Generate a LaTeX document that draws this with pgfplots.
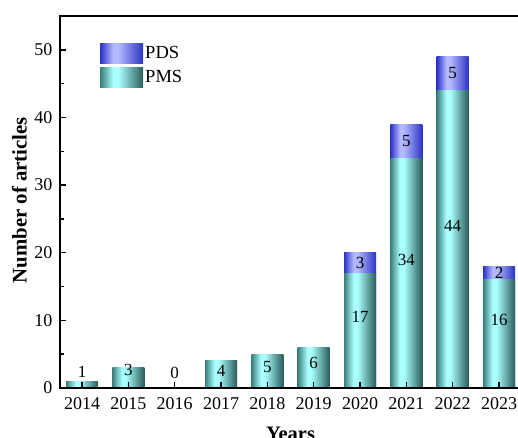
\documentclass[border=0pt]{standalone}
\usepackage{pgfplots}
\usepackage{pgfplotstable}
\pgfplotsset{compat=1.18}
\usepackage{fontspec}
\setmainfont{Liberation Serif}
\definecolor{pmsL}{HTML}{3A7E7A}
\definecolor{pmsR}{HTML}{285C59}
\definecolor{pmsMid}{HTML}{AAFFFF}
\definecolor{pdsL}{HTML}{2B31C6}
\definecolor{pdsR}{HTML}{2C33C2}
\definecolor{pdsMid}{HTML}{B2B9FF}
\pgfdeclarehorizontalshading{pmsshade}{100bp}{color(0bp)=(pmsL); color(25bp)=(pmsL); color(40bp)=(pmsMid); color(46bp)=(pmsMid); color(75bp)=(pmsR); color(100bp)=(pmsR)}
\pgfdeclarehorizontalshading{pdsshade}{100bp}{color(0bp)=(pdsL); color(25bp)=(pdsL); color(40bp)=(pdsMid); color(46bp)=(pdsMid); color(75bp)=(pdsR); color(100bp)=(pdsR)}

\pgfplotstableread{
x pms pds
0 1 0
1 3 0
2 0 0
3 4 0
4 5 0
5 6 0
6 17 3
7 34 5
8 44 5
9 16 2
}\datatable

\pgfplotstableread{
x y label
0 2.4 1
1 2.6 3
2 2.2 0
3 2.6 4
4 3.1 5
5 3.7 6
6 10.5 17
6 18.5 3
7 19 34
7 36.5 5
8 24 44
8 46.5 5
9 10 16
9 17 2
}\labeltable

\pgfplotsset{
  common/.style={
    at={(60pt,49pt)}, anchor=south west,
    width=461pt, height=372pt, scale only axis,
    xmin=-0.475, xmax=9.475, ymin=0, ymax=55,
  },
  pmsstyle/.style={draw=none, shade, shading=pmsshade, shading angle=0},
  pdsstyle/.style={draw=none, shade, shading=pdsshade, shading angle=0},
}

\begin{document}
\begin{tikzpicture}[x=1pt,y=1pt]
\begin{axis}[common,
  bar width=32pt,
  xtick={0,...,9}, xticklabels={2014,2015,2016,2017,2018,2019,2020,2021,2022,2023},
  ytick={0,10,...,50}, minor ytick={5,15,...,45},
  tick pos=left, tick align=inside,
  major tick length=6pt, minor tick length=3.5pt,
  every tick/.style={black, line width=1.4pt},
  axis line style={line width=2.2pt},
  axis on top,
  tick label style={font=\fontsize{18}{20}\selectfont},
  xticklabel style={yshift=-6pt},
  yticklabel style={xshift=-4pt},
  /pgf/number format/assume math mode=true,
  xlabel={\textbf{Years}}, ylabel={\textbf{Number of articles}},
  every axis x label/.style={at={(axis description cs:0.5,0)}, anchor=north, inner sep=0pt, yshift=-39pt, font=\fontsize{20.5}{22}\selectfont},
  every axis y label/.style={at={(axis description cs:-0.088,0.505)}, rotate=90, anchor=center, font=\fontsize{20.8}{22}\selectfont},
  legend style={draw=none, fill=none, at={(axis description cs:0.0868,0.927)}, anchor=north west, inner sep=0pt, row sep=4pt, font=\fontsize{18.5}{20}\selectfont, cells={anchor=west}},
  legend image code/.code={\path[#1] (0pt,-10pt) rectangle (43pt,10pt);},
]
\addlegendimage{pdsstyle}
\addlegendentry{PDS}
\addlegendimage{pmsstyle}
\addlegendentry{PMS}
\pgfplotsinvokeforeach{6,...,9}{
  \addplot[forget plot, ybar, bar shift=0pt, pdsstyle, restrict x to domain=#1:#1]
    table[x=x, y expr=\thisrow{pms}+\thisrow{pds}] {\datatable};
}
\pgfplotsinvokeforeach{0,...,9}{
  \addplot[forget plot, ybar, bar shift=0pt, pmsstyle, restrict x to domain=#1:#1]
    table[x=x, y=pms] {\datatable};
}
\end{axis}
\begin{axis}[common, hide axis]
\addplot[draw=none, mark=none, nodes near coords, point meta=explicit symbolic,
  every node near coord/.append style={anchor=center, text=black, font=\fontsize{17}{19}\selectfont}]
  table[x=x, y=y, meta=label] {\labeltable};
\end{axis}
\pgfresetboundingbox
\useasboundingbox (0,0) rectangle (518,437);
\end{tikzpicture}
\end{document}
